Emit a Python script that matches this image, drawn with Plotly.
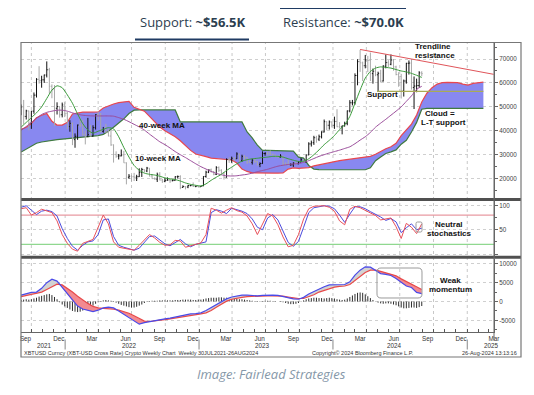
import numpy as np
import pandas as pd
import plotly.graph_objects as go

# ---------------- data (USD thousands) ----------------
WEEK0 = "2021-09-03"      # first weekly bar (weeks dated on Fridays)
GRID0 = "2021-09-03"      # start of the bi-weekly indicator readings

open_k = [
    47.1, 49.9, 46.0, 48.3, 43.2, 48.2, 54.9, 61.5, 60.9, 61.3,
    63.3, 65.5, 58.6, 57.2, 49.4, 50.1, 46.7, 50.8, 47.3, 41.8,
    43.1, 36.3, 37.7, 42.4, 42.2, 38.3, 37.7, 38.4, 37.8, 41.3,
    46.8, 46.4, 39.7, 40.4, 39.5, 37.8, 34.1, 30.1, 29.4, 29.5,
    29.9, 26.6, 20.6, 21.0, 20.8, 20.6, 20.8, 22.6, 23.8, 23.2,
    24.4, 21.1, 20.0, 19.8, 21.8, 19.4, 18.9, 19.3, 19.4, 19.1,
    19.2, 20.8, 20.9, 16.3, 16.7, 16.5, 17.1, 17.1, 16.8, 16.8,
    16.6, 16.9, 20.9, 22.7, 23.7, 22.9, 21.8, 24.6, 23.5, 22.4,
    20.6, 28.0, 27.9, 28.5, 28.3, 30.3, 27.6, 29.3, 28.9, 26.9,
    26.8, 27.7, 27.1, 25.9, 26.3, 30.5, 30.6, 30.3, 30.2, 29.9,
    29.3, 29.0, 29.4, 26.1, 26.0, 25.8, 25.8, 26.5, 26.2, 26.9,
    27.9, 26.9, 29.9, 34.5, 35.0, 37.1, 36.5, 37.5, 39.5, 43.8,
    42.3, 43.7, 42.3, 43.9, 41.7, 41.6, 42.0, 43.0, 48.3, 51.7,
    51.7, 63.1, 68.9, 68.4, 67.2, 69.6, 69.4, 63.9, 64.9, 63.4,
    64.0, 60.8, 67.0, 68.5, 67.8, 69.6, 66.7, 63.5, 62.7, 56.7,
    60.8, 68.2, 68.3, 58.1, 58.7, 58.9, 64.2,
]
high_k = [
    51.0, 52.9, 48.8, 48.4, 48.3, 56.0, 62.0, 67.0, 63.0, 63.5,
    69.0, 66.3, 59.4, 59.1, 51.9, 50.1, 51.8, 52.0, 47.9, 44.4,
    43.5, 38.9, 42.6, 45.8, 44.7, 40.0, 45.4, 42.4, 42.3, 46.9,
    48.2, 47.4, 41.6, 42.9, 40.8, 40.0, 34.3, 31.4, 30.3, 32.2,
    31.6, 26.8, 21.9, 21.6, 22.4, 21.6, 24.3, 24.5, 23.9, 24.9,
    24.4, 21.9, 20.5, 22.5, 22.7, 19.9, 20.3, 20.5, 19.9, 19.7,
    21.0, 21.3, 21.4, 17.2, 16.8, 17.4, 17.4, 18.4, 17.0, 16.9,
    17.0, 21.0, 23.3, 23.8, 24.2, 23.1, 25.2, 25.1, 23.9, 22.6,
    28.5, 28.9, 29.2, 29.0, 31.0, 30.5, 30.0, 29.8, 29.0, 27.6,
    28.3, 28.4, 27.4, 26.8, 31.4, 31.0, 31.4, 31.8, 30.4, 30.0,
    29.9, 30.2, 29.6, 26.8, 28.1, 26.4, 26.8, 27.4, 27.2, 28.6,
    28.0, 30.0, 35.2, 35.9, 37.9, 37.9, 38.4, 39.8, 44.7, 44.0,
    44.3, 43.8, 45.9, 49.0, 43.6, 42.2, 43.8, 48.5, 52.8, 52.9,
    64.0, 69.9, 73.8, 68.9, 71.7, 71.3, 72.7, 66.0, 67.2, 64.7,
    65.5, 67.4, 71.9, 69.5, 71.9, 70.0, 67.2, 64.5, 63.8, 61.4,
    68.4, 69.4, 70.0, 62.7, 61.8, 64.9, 64.9,
]
low_k = [
    46.5, 42.8, 44.7, 40.2, 40.8, 47.1, 53.9, 59.7, 58.0, 60.0,
    62.3, 55.6, 53.6, 42.0, 46.8, 45.5, 45.6, 45.7, 40.6, 39.6,
    34.0, 32.9, 36.2, 41.4, 38.0, 34.3, 37.3, 37.6, 37.6, 40.5,
    44.2, 39.2, 39.2, 39.0, 37.7, 33.7, 26.7, 28.7, 28.0, 29.3,
    26.6, 17.6, 19.9, 18.8, 19.0, 19.0, 20.7, 20.7, 22.6, 22.7,
    20.9, 19.9, 19.6, 18.6, 19.3, 18.2, 18.5, 19.2, 18.2, 18.9,
    19.2, 20.1, 15.6, 16.2, 15.5, 16.0, 16.8, 16.5, 16.4, 16.4,
    16.5, 16.9, 20.4, 22.3, 22.6, 21.4, 21.5, 22.8, 21.9, 19.6,
    20.4, 26.6, 26.6, 27.3, 28.2, 27.1, 27.0, 27.7, 26.2, 26.6,
    25.9, 26.6, 25.4, 24.8, 26.2, 29.6, 29.8, 29.9, 29.6, 28.9,
    28.6, 28.8, 25.3, 25.8, 25.4, 25.4, 24.9, 26.1, 26.0, 26.9,
    26.6, 26.8, 29.8, 33.4, 34.1, 35.0, 35.7, 36.8, 39.3, 40.2,
    40.5, 41.4, 40.8, 41.5, 40.9, 38.5, 41.8, 42.3, 47.7, 50.6,
    50.9, 59.0, 64.6, 60.8, 66.1, 64.5, 60.8, 59.7, 62.8, 56.6,
    60.2, 60.6, 66.1, 66.7, 67.4, 65.1, 63.2, 58.4, 53.5, 54.3,
    59.7, 63.5, 57.2, 49.1, 56.1, 58.1, 62.8,
]
close_k = [
    49.9, 46.0, 48.3, 43.2, 48.2, 54.9, 61.5, 60.9, 61.3, 63.3,
    65.5, 58.6, 57.2, 49.4, 50.1, 46.7, 50.8, 47.3, 41.8, 43.1,
    36.3, 37.7, 42.4, 42.2, 38.3, 37.7, 38.4, 37.8, 41.3, 46.8,
    46.4, 39.7, 40.4, 39.5, 37.8, 34.1, 30.1, 29.4, 29.5, 29.9,
    26.6, 20.6, 21.0, 20.8, 20.6, 20.8, 22.6, 23.8, 23.2, 24.4,
    21.1, 20.0, 19.8, 21.8, 19.4, 18.9, 19.3, 19.4, 19.1, 19.2,
    20.8, 20.9, 16.3, 16.7, 16.5, 17.1, 17.1, 16.8, 16.8, 16.6,
    16.9, 20.9, 22.7, 23.7, 22.9, 21.8, 24.6, 23.5, 22.4, 20.6,
    28.0, 27.9, 28.5, 28.3, 30.3, 27.6, 29.3, 28.9, 26.9, 26.8,
    27.7, 27.1, 25.9, 26.3, 30.5, 30.6, 30.3, 30.2, 29.9, 29.3,
    29.0, 29.4, 26.1, 26.0, 25.8, 25.8, 26.5, 26.2, 26.9, 27.9,
    26.9, 29.9, 34.5, 35.0, 37.1, 36.5, 37.5, 39.5, 43.8, 42.3,
    43.7, 42.3, 43.9, 41.7, 41.6, 42.0, 43.0, 48.3, 51.7, 51.7,
    63.1, 68.9, 68.4, 67.2, 69.6, 69.4, 63.9, 64.9, 63.4, 64.0,
    60.8, 67.0, 68.5, 67.8, 69.6, 66.7, 63.5, 62.7, 56.7, 60.8,
    68.2, 68.3, 58.1, 58.7, 58.9, 64.2, 63.9,
]
macd_hist_k = [
    0.4, 0.5, 0.6, 0.5, 0.6, 0.8, 1.0, 1.3, 1.5, 1.7,
    1.9, 2.0, 1.7, 1.2, 0.6, -0.2, -0.8, -1.3, -1.7, -2.1,
    -2.5, -2.7, -2.8, -2.7, -2.4, -2.1, -1.8, -1.5, -1.1, -0.6,
    -0.2, 0.1, 0.3, 0.4, 0.3, 0.2, 0.1, -0.3, -0.6, -0.9,
    -1.1, -1.3, -1.5, -1.6, -1.6, -1.4, -1.1, -0.8, -0.4, -0.1,
    0.1, 0.2, 0.2, 0.2, 0.3, 0.3, 0.3, 0.3, 0.3, 0.3,
    0.4, 0.4, 0.4, 0.5, 0.5, 0.5, 0.5, 0.4, 0.4, 0.5,
    0.5, 0.6, 0.8, 0.9, 1.0, 1.0, 1.0, 1.1, 1.1, 1.0,
    1.0, 0.9, 0.8, 0.8, 0.7, 0.6, 0.6, 0.5, 0.4, 0.3,
    0.2, 0.1, 0.1, 0.1, 0.1, 0.2, 0.2, 0.2, 0.1, 0.1,
    0.0, -0.1, -0.2, -0.4, -0.6, -0.7, -0.7, -0.6, -0.4, -0.1,
    0.3, 0.6, 0.8, 0.9, 1.0, 1.0, 0.9, 0.9, 0.8, 0.9,
    1.0, 0.9, 0.8, 0.6, 0.5, 0.4, 0.5, 0.8, 1.2, 1.6,
    2.0, 2.3, 2.4, 2.3, 1.9, 1.4, 0.9, 0.4, 0.0, -0.3,
    -0.5, -0.6, -0.5, -0.5, -0.6, -0.8, -1.0, -1.3, -1.6, -1.8,
    -1.8, -1.7, -1.6, -1.6, -1.7, -1.5, -1.2,
]

# bi-weekly readings of the indicator lines
ma10_k = [
    41.5, 43.5, 45.5, 47.5, 50.0, 53.5, 57.0, 58.8, 58.0, 55.0,
    51.5, 47.0, 43.0, 40.3, 39.0, 39.8, 40.6, 41.3, 40.8, 37.5,
    33.0, 29.0, 25.5, 23.5, 22.3, 21.8, 21.5, 21.0, 20.3, 19.9,
    19.6, 19.0, 18.2, 17.6, 17.2, 16.9, 17.8, 19.3, 20.6, 21.8,
    23.4, 24.8, 26.2, 27.3, 27.9, 28.3, 28.5, 28.8, 29.0, 29.3,
    29.3, 29.0, 28.3, 27.7, 27.2, 27.3, 28.3, 30.0, 32.0, 34.2,
    36.0, 38.0, 40.5, 42.5, 46.0, 51.5, 57.0, 62.0, 64.8, 66.2,
    66.7, 66.5, 66.2, 65.6, 65.0, 64.6, 64.0, 63.2, 62.3,
]
ma40_k = [
    40.2, 41.8, 43.5, 45.2, 46.8, 47.7, 48.2, 48.6, 48.6, 48.2,
    47.5, 46.9, 46.5, 46.3, 46.2, 46.2, 46.2, 46.2, 46.1, 45.5,
    44.8, 43.8, 42.7, 41.6, 40.3, 38.6, 37.0, 35.4, 34.2, 32.8,
    31.3, 30.0, 28.8, 27.5, 26.2, 25.0, 24.0, 23.0, 22.2, 21.6,
    21.2, 21.1, 21.2, 21.5, 21.8, 22.3, 22.9, 23.4, 23.9, 24.6,
    25.2, 25.6, 25.9, 26.1, 26.3, 26.8, 27.5, 28.4, 29.3, 30.0,
    30.7, 31.3, 31.9, 32.6, 33.3, 34.6, 36.1, 37.5, 39.3, 41.5,
    43.2, 44.8, 46.5, 48.2, 50.0, 52.3, 54.6, 57.3, 58.6,
]
stoch_k = [
    93, 95, 80, 85, 92, 89, 85, 68, 40, 22,
    10, 6, 22, 26, 30, 55, 80, 62, 25, 14,
    12, 9, 8, 18, 30, 40, 33, 24, 18, 19,
    28, 27, 14, 17, 21, 23, 40, 94, 90, 84,
    90, 95, 89, 86, 78, 62, 40, 62, 83, 78,
    60, 35, 15, 18, 40, 72, 93, 98, 98, 99,
    96, 88, 68, 60, 92, 98, 95, 90, 84, 79,
    70, 72, 74, 56, 32, 63, 55, 42, 62,
]
stoch_d = [
    96, 99, 90, 81, 88, 90, 87, 78, 52, 32,
    16, 8, 18, 25, 27, 40, 70, 72, 36, 18,
    14, 11, 8, 12, 24, 36, 37, 29, 21, 17,
    24, 30, 21, 15, 20, 22, 25, 85, 91, 88,
    83, 94, 91, 88, 83, 72, 55, 50, 74, 81,
    70, 48, 24, 16, 26, 55, 85, 95, 97, 99,
    98, 93, 80, 65, 82, 97, 97, 93, 87, 82,
    76, 69, 73, 66, 44, 54, 62, 50, 53,
]
macd_k = [
    1.7, 2.1, 2.4, 2.5, 3.5, 5.0, 5.9, 5.4, 3.7, 1.9,
    0.2, -1.2, -2.0, -2.4, -2.7, -2.3, -1.7, -1.5, -1.7, -2.5,
    -3.4, -4.1, -5.1, -6.0, -5.6, -5.3, -5.0, -4.8, -4.6, -4.4,
    -4.1, -3.7, -3.5, -3.3, -3.2, -3.0, -2.4, -1.6, -0.7, 0.1,
    0.7, 1.2, 1.5, 1.7, 1.7, 1.6, 1.5, 1.6, 1.7, 1.7,
    1.6, 1.3, 0.9, 0.7, 0.6, 1.1, 2.0, 2.7, 3.4, 3.9,
    4.4, 4.5, 4.4, 4.5, 5.2, 7.0, 8.3, 9.2, 9.1, 8.2,
    7.4, 7.2, 6.9, 6.1, 5.0, 4.1, 3.7, 2.4, 2.1,
]
signal_k = [
    1.3, 1.6, 1.9, 2.1, 2.5, 3.2, 3.9, 4.6, 4.4, 3.5,
    2.5, 1.4, 0.4, -0.5, -1.3, -1.7, -1.8, -1.8, -2.0, -2.3,
    -2.7, -3.1, -3.8, -4.6, -5.2, -5.3, -5.2, -5.0, -4.8, -4.6,
    -4.4, -4.2, -3.9, -3.7, -3.5, -3.3, -3.0, -2.4, -1.5, -0.6,
    0.1, 0.6, 0.9, 1.1, 1.3, 1.4, 1.5, 1.5, 1.5, 1.5,
    1.5, 1.4, 1.2, 1.0, 0.8, 0.8, 1.2, 1.8, 2.5, 3.0,
    3.5, 3.8, 4.0, 4.1, 4.5, 5.5, 6.7, 7.7, 8.3, 8.3,
    8.0, 7.6, 7.3, 6.8, 6.0, 5.3, 4.7, 3.8, 3.2,
]
# Ichimoku cloud (bi-weekly, runs 24 weeks past the last bar)
span_a_k = [
    40.6, 41.5, 43.0, 45.5, 46.5, 47.2, 44.0, 42.4, 42.4, 43.5,
    47.0, 47.5, 47.8, 47.8, 47.8, 47.9, 49.5, 50.5, 51.2, 51.8,
    52.1, 52.3, 49.8, 48.9, 48.2, 46.0, 43.8, 41.6, 40.0, 38.8,
    37.5, 35.8, 33.6, 31.8, 30.3, 29.6, 29.2, 28.6, 28.3, 28.1,
    28.0, 27.8, 26.5, 24.0, 23.0, 22.4, 22.3, 22.3, 22.3, 22.3,
    22.3, 22.4, 24.0, 24.5, 24.3, 24.3, 24.6, 25.3, 25.8, 26.3,
    26.8, 27.2, 27.5, 27.8, 28.1, 28.4, 28.7, 29.0, 29.3, 30.2,
    31.4, 32.5, 33.3, 34.8, 38.0, 40.2, 42.8, 46.6, 52.0, 55.7,
    58.0, 59.5, 60.1, 60.2, 60.2, 60.1, 59.5, 59.1, 59.8, 60.2,
    60.3,
]
span_b_k = [
    31.1, 32.3, 33.6, 34.8, 35.3, 35.7, 36.0, 36.3, 36.5, 36.7,
    36.9, 37.1, 37.3, 37.5, 37.7, 38.0, 38.5, 39.8, 41.5, 43.2,
    45.0, 47.2, 48.6, 48.7, 48.7, 48.7, 48.7, 48.7, 48.7, 48.7,
    48.7, 43.7, 43.7, 43.7, 43.7, 43.7, 43.7, 43.7, 43.7, 43.7,
    43.7, 43.7, 43.7, 43.7, 39.5, 37.0, 34.0, 31.8, 31.8, 31.8,
    31.8, 31.8, 31.8, 31.5, 29.0, 28.6, 25.5, 24.0, 23.8, 23.7,
    23.7, 23.7, 23.7, 23.7, 23.7, 23.7, 23.7, 23.7, 24.5, 27.5,
    29.0, 30.5, 31.2, 32.0, 34.4, 36.0, 39.5, 43.5, 49.0, 49.4,
    49.4, 49.4, 49.4, 49.4, 49.4, 49.4, 49.4, 49.4, 49.4, 49.4,
    49.4,
]
trend_dates = ["2024-03-15", "2025-03-14"]
trend_k = [74.0, 63.6]
support_dates = ["2024-04-30", "2025-02-14"]
support_k = [56.5, 56.5]
stoch_levels = [80, 20]

# month / year labels of the time axis (labels sit mid-month)
month_label_dates = pd.date_range("2021-09-01", "2025-03-01", freq="3MS") + pd.Timedelta(days=14)
year_labels = ["2021", "2022", "2023", "2024", "2025"]

# ---------------- geometry helpers (page pixel -> paper) ----------------
OFF = 8                       # the page body margin shifts the figure by 8 px
FW, FH = 534 - OFF, 395 - OFF
L, R, T, B = 21, 494, 43, 332  # plot area in page pixels
W, H = R - L, B - T
def px(x):
    return (x - L) / W
def py(y):
    return (B - y) / H

K = 1000.0
weeks = pd.date_range(WEEK0, periods=len(close_k), freq="7D")
grid = pd.date_range(GRID0, periods=len(ma10_k), freq="14D")
cloud_dates = pd.date_range(GRID0, periods=len(span_a_k), freq="14D")
o, h, l, c = (np.array(v) * K for v in (open_k, high_k, low_k, close_k))
fmt = lambda d: d.strftime("%Y-%m-%d %H:%M")

fig = go.Figure()
common = dict(hoverinfo="skip", showlegend=False)

# ---- Ichimoku cloud ----
fig.add_trace(go.Scatter(x=cloud_dates, y=np.array(span_b_k) * K, mode="lines",
                         line=dict(color="#3f7a3f", width=1.2), xaxis="x", yaxis="y", **common))
fig.add_trace(go.Scatter(x=cloud_dates, y=np.array(span_a_k) * K, mode="lines",
                         line=dict(color="#e8474f", width=1.2), fill="tonexty",
                         fillcolor="#8888f0", xaxis="x", yaxis="y", **common))

# ---- weekly OHLC bars ----
def bars(idx):
    xs, ys = [], []
    dt = pd.Timedelta(days=2.6)
    for i in idx:
        t = weeks[i]
        xs += [fmt(t), fmt(t), None, fmt(t - dt), fmt(t), None, fmt(t), fmt(t + dt), None]
        ys += [l[i], h[i], None, o[i], o[i], None, c[i], c[i], None]
    return xs, ys

up = [i for i in range(len(c)) if c[i] >= o[i]]
dn = [i for i in range(len(c)) if c[i] < o[i]]
for idx, col in ((dn, "#a8a8a8"), (up, "#111111")):
    xs, ys = bars(idx)
    fig.add_trace(go.Scatter(x=xs, y=ys, mode="lines", line=dict(color=col, width=1),
                             connectgaps=False, xaxis="x", yaxis="y", **common))

# ---- moving averages, trendline, support ----
fig.add_trace(go.Scatter(x=grid, y=np.array(ma40_k) * K, mode="lines",
                         line=dict(color="#9a4c9a", width=1, shape="spline", smoothing=0.6),
                         xaxis="x", yaxis="y", **common))
fig.add_trace(go.Scatter(x=grid, y=np.array(ma10_k) * K, mode="lines",
                         line=dict(color="#3a9a3a", width=1, shape="spline", smoothing=0.6),
                         xaxis="x", yaxis="y", **common))
fig.add_trace(go.Scatter(x=trend_dates, y=np.array(trend_k) * K, mode="lines",
                         line=dict(color="#e0555a", width=1), xaxis="x", yaxis="y", **common))
fig.add_trace(go.Scatter(x=support_dates, y=np.array(support_k) * K, mode="lines",
                         line=dict(color="#a9ab55", width=1.2), xaxis="x", yaxis="y", **common))

# ---- stochastics ----
fig.add_trace(go.Scatter(x=grid, y=stoch_d, mode="lines", line=dict(color="#4b4bdc", width=1),
                         xaxis="x", yaxis="y2", **common))
fig.add_trace(go.Scatter(x=grid, y=stoch_k, mode="lines", line=dict(color="#e8505a", width=1),
                         xaxis="x", yaxis="y2", **common))

# ---- MACD ----
m = np.array(macd_k) * K
s = np.array(signal_k) * K
tt = np.array((grid - grid[0]) / pd.Timedelta(days=1), dtype=float)
polys = {True: ([], []), False: ([], [])}
def add_poly(pts, positive):
    xs, ys = polys[positive]
    for (t, v) in pts + [pts[0]]:
        xs.append(fmt(grid[0] + pd.Timedelta(days=float(t))))
        ys.append(v)
    xs.append(None); ys.append(None)
for i in range(len(tt) - 1):
    d0, d1 = m[i] - s[i], m[i + 1] - s[i + 1]
    if d0 * d1 < 0:
        f = d0 / (d0 - d1)
        tc = tt[i] + f * (tt[i + 1] - tt[i])
        yc = m[i] + f * (m[i + 1] - m[i])
        add_poly([(tt[i], m[i]), (tc, yc), (tt[i], s[i])], d0 > 0)
        add_poly([(tc, yc), (tt[i + 1], m[i + 1]), (tt[i + 1], s[i + 1])], d1 > 0)
    else:
        add_poly([(tt[i], m[i]), (tt[i + 1], m[i + 1]), (tt[i + 1], s[i + 1]), (tt[i], s[i])],
                 (d0 + d1) > 0)
# histogram as thin weekly sticks
hx, hy = [], []
for t, v in zip(weeks, macd_hist_k):
    hx += [fmt(t), fmt(t), None]
    hy += [0.0, v * K, None]
fig.add_trace(go.Scatter(x=hx, y=hy, mode="lines", line=dict(color="#2e2e2e", width=1),
                         xaxis="x", yaxis="y3", **common))
for positive, col in ((True, "#d2d2d2"), (False, "#f38a90")):
    xs, ys = polys[positive]
    fig.add_trace(go.Scatter(x=xs, y=ys, mode="lines", fill="toself", fillcolor=col,
                             line=dict(width=0, color=col), xaxis="x", yaxis="y3", **common))
fig.add_trace(go.Scatter(x=grid, y=s, mode="lines", line=dict(color="#e84a4a", width=1.2),
                         xaxis="x", yaxis="y3", **common))
fig.add_trace(go.Scatter(x=grid, y=m, mode="lines", line=dict(color="#4a4ae8", width=1.2),
                         xaxis="x", yaxis="y3", **common))

# ---------------- layout ----------------
tick_font = dict(family="Liberation Sans", size=6.3, color="#444")
yaxis_common = dict(anchor="x", side="right", showline=True, linecolor="#666", linewidth=1,
                    ticks="outside", ticklen=3, tickcolor="#666", tickfont=tick_font,
                    showgrid=True, gridcolor="#cfcfcf", griddash="dot", gridwidth=1,
                    zeroline=False, fixedrange=True)

x_left = pd.Timestamp("2021-09-15") - pd.Timedelta(days=(25.5 - L) / 0.3669)
x_right = pd.Timestamp("2021-09-15") + pd.Timedelta(days=(R - 25.5) / 0.3669)

fig.update_layout(
    width=FW, height=FH,
    margin=dict(l=L - OFF, r=FW - (R - OFF), t=T - OFF, b=FH - (B - OFF), pad=0),
    paper_bgcolor="white", plot_bgcolor="white",
    showlegend=False,
    xaxis=dict(domain=[0, 1], anchor="y3", type="date",
               range=[x_left, x_right], rangeslider=dict(visible=False),
               showline=True, linecolor="#666", linewidth=1,
               tickmode="array", tickvals=list(month_label_dates),
               ticktext=[d.strftime("%b") for d in month_label_dates],
               ticks="", tickfont=dict(family="Liberation Sans", size=6.3, color="#333"),
               showgrid=False, zeroline=False,
               minor=dict(dtick="M1", tick0="2021-09-01", ticks="inside", ticklen=3,
                          tickcolor="#555", showgrid=False)),
    yaxis=dict(domain=[py(198), 1], range=[11900, 76690],
               tickmode="array", tickvals=[20000, 30000, 40000, 50000, 60000, 70000],
               ticktext=["20000", "30000", "40000", "50000", "60000", "70000"],
               minor=dict(tickmode="array", tickvals=[15000, 25000, 35000, 45000, 55000, 65000, 75000],
                          ticks="outside", ticklen=2, tickcolor="#666", showgrid=False),
               **yaxis_common),
    yaxis2=dict(domain=[py(255.5), py(201)], range=[-2.9, 108.8],
                tickmode="array", tickvals=[0, 50, 100], ticktext=["", "50", "100"],
                minor=dict(tickmode="array", tickvals=[25, 75], ticks="outside", ticklen=2,
                           tickcolor="#666", showgrid=False),
                **yaxis_common),
    yaxis3=dict(domain=[0, py(259)], range=[-8080, 11260],
                tickmode="array", tickvals=[-5000, 0, 5000, 10000],
                ticktext=["-5000", "0", "5000", "10000"],
                minor=dict(tickmode="array", tickvals=[-7500, -2500, 2500, 7500], ticks="outside",
                           ticklen=2, tickcolor="#666", showgrid=False),
                **yaxis_common),
)

shapes = []
# quarterly dotted vertical gridlines
for d in pd.date_range("2021-10-01", "2025-01-01", freq="QS"):
    shapes.append(dict(type="line", xref="x", yref="paper", x0=d, x1=d, y0=0, y1=1,
                       line=dict(color="#c8c8c8", width=1, dash="dot"), layer="below"))
# stochastic 80 / 20 lines
for lvl, col in zip(stoch_levels, ("#e89aa2", "#90d890")):
    shapes.append(dict(type="line", xref="paper", yref="y2", x0=0, x1=1, y0=lvl, y1=lvl,
                       line=dict(color=col, width=1.3), layer="below"))
# panel separators
for yy in (199.5, 257.3):
    shapes.append(dict(type="line", xref="paper", yref="paper", x0=px(21), x1=px(521),
                       y0=py(yy), y1=py(yy), line=dict(color="#505050", width=3)))
# outer frame and right axis line
shapes.append(dict(type="rect", xref="paper", yref="paper", x0=px(21), x1=px(521),
                   y0=py(357), y1=py(42.5), line=dict(color="#777", width=1.2)))
shapes.append(dict(type="line", xref="paper", yref="paper", x0=px(494), x1=px(494),
                   y0=py(340), y1=py(42.5), line=dict(color="#666", width=1)))
# year separators on the time axis
for d in ["2022-01-01", "2023-01-01", "2024-01-01", "2025-01-01"]:
    shapes.append(dict(type="line", xref="x", yref="paper", x0=d, x1=d, y0=py(339.5),
                       y1=py(349.5), line=dict(color="#888", width=1)))

def rrect(x0, y0, x1, y1, r):
    X = lambda v: f"{px(v):.5f}"
    Y = lambda v: f"{py(v):.5f}"
    return (f"M {X(x0 + r)},{Y(y0)} L {X(x1 - r)},{Y(y0)} Q {X(x1)},{Y(y0)} {X(x1)},{Y(y0 + r)} "
            f"L {X(x1)},{Y(y1 - r)} Q {X(x1)},{Y(y1)} {X(x1 - r)},{Y(y1)} L {X(x0 + r)},{Y(y1)} "
            f"Q {X(x0)},{Y(y1)} {X(x0)},{Y(y1 - r)} L {X(x0)},{Y(y0 + r)} Q {X(x0)},{Y(y0)} {X(x0 + r)},{Y(y0)} Z")
shapes.append(dict(type="path", xref="paper", yref="paper", path=rrect(377, 268, 422, 298, 4),
                   line=dict(color="#9a9a9a", width=1)))
shapes.append(dict(type="path", xref="paper", yref="paper", path=rrect(416, 222, 422, 232, 1.5),
                   line=dict(color="#9a9a9a", width=1)))
# header tab lines
shapes.append(dict(type="line", xref="paper", yref="paper", x0=px(135), x1=px(249),
                   y0=py(39.5), y1=py(39.5), line=dict(color="#1f3b63", width=2)))
shapes.append(dict(type="line", xref="paper", yref="paper", x0=px(280), x1=px(406),
                   y0=py(8), y1=py(8), line=dict(color="#1f3b63", width=2)))
fig.update_layout(shapes=shapes)

ann = []
def note(text, x, y, size=8, xanchor="center", color="#111", family="Liberation Sans"):
    ann.append(dict(text=text, xref="paper", yref="paper", x=px(x), y=py(y), xanchor=xanchor,
                    yanchor="middle", showarrow=False, font=dict(family=family, size=size, color=color)))

note("<b>40-week MA</b>", 161.5, 125.3)
note("<b>10-week MA</b>", 157.5, 158.3)
note("<b>Trendline</b>", 413, 46, xanchor="left")
note("<b>resistance</b>", 413, 55.3, xanchor="left")
note("<b>Support</b>", 382.5, 94.3)
note("<b>Cloud =</b>", 440, 113.3)
note("<b>L-T support</b>", 443.3, 122.3)
note("<b>Neutral</b>", 449, 224.3)
note("<b>stochastics</b>", 449, 233.3)
note("<b>Weak</b>", 450, 280)
note("<b>momentum</b>", 450, 289.3)
# year row
for yl, xp in zip(year_labels, (44, 129, 262, 394.7, 491.7)):
    note(yl, xp, 345.3, size=6.3, color="#333")
# footer row
note("XBTUSD Curncy (XBT-USD Cross Rate) Crypto Weekly Chart  Weekly 30JUL2021-26AUG2024",
     22, 353.2, size=5.5, xanchor="left", color="#333")
note("Copyright\u00a9 2024 Bloomberg Finance L.P.", 310, 353.2, size=5.5, xanchor="left", color="#333")
note("26-Aug-2024 13:13:16", 519, 353.2, size=5.5, xanchor="right", color="#333")
# header and caption
note("Support: <b>~$56.5K</b>", 192, 22, size=13, color="#2c3e50", family="Open Sans")
note("Resistance: <b>~$70.0K</b>", 343, 22, size=13, color="#2c3e50", family="Open Sans")
note("<i>Image: Fairlead Strategies</i>", 271, 374, size=13, color="#8597a8", family="Open Sans")
fig.update_layout(annotations=ann)

fig.write_html("out.html")
